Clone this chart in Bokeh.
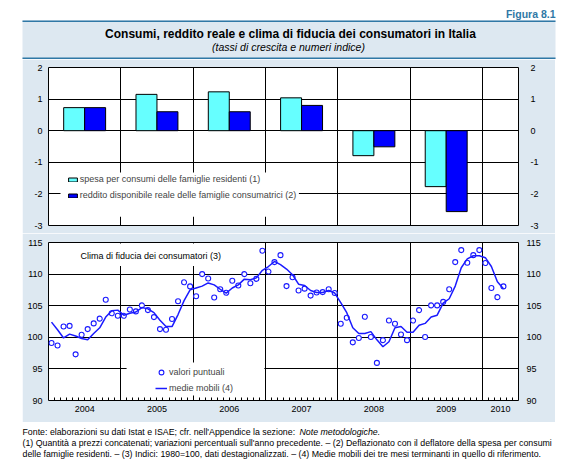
from bokeh.plotting import figure
from bokeh.models import (Range1d, LinearAxis, FixedTicker, Grid, BoxAnnotation, Label,
                          Legend, LegendItem, ColumnDataSource, Spacer)
from bokeh.layouts import column, row
from bokeh.transform import dodge
from bokeh.embed import file_html
from bokeh.resources import INLINE

# ---------------- data ----------------
bar_years = [2004, 2005, 2006, 2007, 2008, 2009]
spesa = [0.73, 1.15, 1.23, 1.04, -0.79, -1.77]
reddito = [0.73, 0.60, 0.60, 0.80, -0.51, -2.56]

# monthly data, Jan 2004 .. Apr 2010
month_index = list(range(76))
fiducia = [
    99.1, 98.7, 101.7, 101.8, 97.3, 100.4, 101.3, 102.2, 102.95, 105.95, 103.8, 103.4,
    103.4, 104.4, 104.1, 105.05, 104.3, 103.2, 101.3, 101.2, 102.9, 105.7, 108.7, 108.05,
    106.5, 110.0, 109.3, 106.3, 107.6, 107.05, 108.95, 108.2, 110.0, 108.55, 109.25, 113.7,
    110.4, 111.9, 113.0, 108.1, 109.5, 107.4, 107.7, 106.6, 107.1, 107.15, 107.6, 107.0,
    102.15, 103.1, 99.2, 99.9, 103.25, 100.05, 95.95, 99.55, 102.65, 102.15, 100.45, 99.55,
    102.65, 104.3, 100.05, 105.05, 105.05, 105.6, 107.6, 111.9, 113.8, 111.8, 113.0, 113.8,
    111.75, 107.8, 106.35, 108.05,
]
media_mobile = [
    102.4, 101.2, 99.9, 100.5, 100.2, 99.8, 99.6, 100.6, 101.5, 103.2, 104.2, 104.3,
    103.5, 103.8, 104.0, 104.7, 104.5, 103.9, 102.7, 101.7, 101.7, 103.6, 105.8, 107.5,
    107.8, 108.1, 108.6, 108.3, 107.6, 107.0, 107.8, 108.3, 109.2, 109.1, 109.4, 110.6,
    111.2, 112.0, 111.5, 110.8, 109.9, 108.4, 108.2, 107.4, 107.1, 107.1, 107.4, 107.0,
    105.5, 103.9, 101.5, 100.6, 100.6, 100.9, 99.6, 98.5, 99.3, 101.5, 101.7, 100.8,
    100.8, 101.9, 102.2, 103.2, 103.5, 105.4, 106.1, 108.1, 111.0, 112.4, 112.9, 112.9,
    112.6, 111.2, 108.8, 107.7,
]
year_labels = ["2004", "2005", "2006", "2007", "2008", "2009", "2010"]
upper_ticks = [-3, -2, -1, 0, 1, 2]
lower_ticks = [90, 95, 100, 105, 110, 115]

title_text = "Consumi, reddito reale e clima di fiducia dei consumatori in Italia"
subtitle_text = "(tassi di crescita e numeri indice)"
figure_tag = "Figura 8.1"
legend_upper = ["spesa per consumi delle famiglie residenti (1)",
                "reddito disponibile reale delle famiglie consumatrici (2)"]
legend_lower = ["valori puntuali", "medie mobili (4)"]
panel_label = "Clima di fiducia dei consumatori (3)"
notes = [
    ("Fonte: elaborazioni su dati Istat e ISAE; cfr. nell'Appendice la sezione: ", "Note metodologiche."),
    ("(1) Quantità a prezzi concatenati; variazioni percentuali sull'anno precedente. – (2) Deflazionato con il deflatore della spesa per consumi", None),
    ("delle famiglie residenti. – (3) Indici: 1980=100, dati destagionalizzati. – (4) Medie mobili dei tre mesi terminanti in quello di riferimento.", None),
]

# ---------------- style ----------------
FONT = "Liberation Sans"
BG = "#dde8f1"
TEAL = "#2f78a6"
CYAN = "#66ffff"
BLUE = "#0000ff"
LINE_BLUE = "#1a1aff"
PAGE_W = 567
PANEL_L, PANEL_R = 22, 555
X0, X1 = 2004, 2010.5


def px_figure(height):
    """Figure whose frame is the whole canvas; data units = pixels from top-left."""
    p = figure(width=PAGE_W, height=height, x_range=Range1d(0, PAGE_W),
               y_range=Range1d(height, 0), x_axis_type=None, y_axis_type=None,
               output_backend="svg", toolbar_location=None, min_border=0,
               outline_line_color=None, background_fill_color="white",
               border_fill_color="white")
    p.grid.visible = False
    return p


def box(p, left, right, top, bottom, color):
    p.add_layout(BoxAnnotation(left=left, right=right, top=top, bottom=bottom,
                               fill_color=color, fill_alpha=1, line_color=None))


def y_axes(p, ticks, right_standoff):
    for side, so in (("left", 6), ("right", right_standoff)):
        ax = LinearAxis(ticker=FixedTicker(ticks=ticks), major_tick_in=0, major_tick_out=0,
                        minor_tick_in=0, minor_tick_out=0, axis_line_color=None,
                        major_label_overrides={t: str(t) for t in ticks},
                        major_label_standoff=so, major_label_text_font=FONT,
                        major_label_text_font_size="9px", major_label_text_color="black")
        p.add_layout(ax, side)


def grids(p, xt, yt):
    p.add_layout(Grid(dimension=0, ticker=FixedTicker(ticks=xt), grid_line_color="black",
                      grid_line_width=1, grid_line_alpha=1))
    p.add_layout(Grid(dimension=1, ticker=FixedTicker(ticks=yt), grid_line_color="black",
                      grid_line_width=1, grid_line_alpha=1))


# ---------------- header ----------------
HH = 59
pH = px_figure(HH)
box(pH, PANEL_L, PANEL_R, 20, HH, BG)
box(pH, PANEL_L, PANEL_R, 20, 21.5, TEAL)
box(pH, PANEL_L, PANEL_R, 57, 58.5, TEAL)
pH.add_layout(Label(x=PANEL_R, y=13, text=figure_tag, text_align="right",
                    text_baseline="middle", text_font=FONT, text_font_size="10.5px",
                    text_font_style="bold", text_color=TEAL))
pH.add_layout(Label(x=290, y=33, text=title_text, text_align="center",
                    text_baseline="middle", text_font=FONT, text_font_size="12px",
                    text_font_style="bold", text_color="black"))
pH.add_layout(Label(x=288, y=46, text=subtitle_text, text_align="center",
                    text_baseline="middle", text_font=FONT, text_font_size="10.5px",
                    text_font_style="italic", text_color="black"))

# ---------------- upper chart ----------------
CW = PANEL_R - PANEL_L
pA = figure(width=CW, height=174, frame_width=470, frame_height=158,
            x_range=Range1d(X0, X1), y_range=Range1d(upper_ticks[0], upper_ticks[-1]),
            x_axis_type=None, y_axis_type=None, output_backend="svg", toolbar_location=None,
            min_border_left=26, min_border_right=37, min_border_top=8, min_border_bottom=8,
            border_fill_color=BG, background_fill_color="white",
            outline_line_color="black", outline_line_width=1, outline_line_alpha=1)
y_axes(pA, upper_ticks, 12)
grids(pA, [y + 1 for y in bar_years], upper_ticks[1:-1])

srcA = ColumnDataSource(dict(x=[y + 0.5 for y in bar_years], spesa=spesa, reddito=reddito))
r1 = pA.vbar(x=dodge("x", -0.145, range=pA.x_range), top="spesa", bottom=0, width=0.29,
             source=srcA, fill_color=CYAN, line_color="black", line_width=1)
r2 = pA.vbar(x=dodge("x", 0.145, range=pA.x_range), top="reddito", bottom=0, width=0.29,
             source=srcA, fill_color=BLUE, line_color="black", line_width=1)

box(pA, 2004.166, 2007.463, -1.32, -2.72, "white")
legA = Legend(items=[LegendItem(label=legend_upper[0], renderers=[r1]),
                     LegendItem(label=legend_upper[1], renderers=[r2])],
              location=(18.7, 24), orientation="vertical", background_fill_alpha=0,
              border_line_alpha=0, padding=0, margin=0, spacing=4, glyph_width=11,
              glyph_height=5, label_height=12, label_standoff=2, label_text_font=FONT,
              label_text_font_size="9px")
pA.add_layout(legA)

# ---------------- lower chart ----------------
pB = figure(width=CW, height=189, frame_width=470, frame_height=158,
            x_range=Range1d(X0, X1), y_range=Range1d(lower_ticks[0], lower_ticks[-1]),
            x_axis_type=None, y_axis_type=None, output_backend="svg", toolbar_location=None,
            min_border_left=26, min_border_right=37, min_border_top=9, min_border_bottom=22,
            border_fill_color=BG, background_fill_color="white",
            outline_line_color="black", outline_line_width=1, outline_line_alpha=1)
y_axes(pB, lower_ticks, 8)
grids(pB, [y + 1 for y in bar_years], lower_ticks[1:-1])

label_pos = [int(y) + 0.5 for y in year_labels[:-1]] + [int(year_labels[-1]) + 0.25]
xb = LinearAxis(ticker=FixedTicker(ticks=label_pos,
                                   minor_ticks=[X0 + k / 12 for k in range(1, 78)]),
                major_label_overrides={pos: lab for pos, lab in zip(label_pos, year_labels)},
                major_tick_in=0, major_tick_out=0, minor_tick_in=3, minor_tick_out=0,
                minor_tick_line_color="black", axis_line_color=None, major_label_standoff=5,
                major_label_text_font=FONT, major_label_text_font_size="9px",
                major_label_text_color="black")
pB.add_layout(xb, "below")

srcB = ColumnDataSource(dict(x=[X0 + (i + 0.5) / 12 for i in month_index],
                             fid=fiducia, mm=media_mobile))
pts = pB.scatter("x", "fid", source=srcB, marker="circle", size=5, fill_color="white",
                 line_color=LINE_BLUE, line_width=1.1)
ln = pB.line("x", "mm", source=srcB, line_color=LINE_BLUE, line_width=1.5)

box(pB, 2004.17, 2006.9, 114.85, 111.3, "white")
pB.add_layout(Label(x=2004.443, y=112.9, text=panel_label, text_baseline="middle",
                    text_font=FONT, text_font_size="9px", text_color="black"))
box(pB, 2005.08, 2006.985, 96.0, 90.8, "white")
legB = Legend(items=[LegendItem(label=legend_lower[0], renderers=[pts]),
                     LegendItem(label=legend_lower[1], renderers=[ln])],
              location=(107, 6.3), orientation="vertical", background_fill_alpha=0,
              border_line_alpha=0, padding=0, margin=0, spacing=4, glyph_width=12,
              glyph_height=12, label_height=12, label_standoff=2, label_text_font=FONT,
              label_text_font_size="9px")
pB.add_layout(legB)

# ---------------- footer ----------------
FH = 51
pF = px_figure(FH)
note_y = [9, 20, 31]
for (txt, ital), yy in zip(notes, note_y):
    pF.add_layout(Label(x=PANEL_L, y=yy, text=txt, text_baseline="middle", text_font=FONT,
                        text_font_size="8.8px", text_color="black"))
    if ital:
        pF.add_layout(Label(x=299, y=yy, text=ital, text_baseline="middle", text_font=FONT,
                            text_font_size="8.8px", text_font_style="italic",
                            text_color="black"))

middle = row(Spacer(width=PANEL_L, height=174 + 189), column(pA, pB, spacing=0),
             Spacer(width=PAGE_W - PANEL_R, height=174 + 189), spacing=0)
layout = column(pH, middle, pF, spacing=0)
open("out.html", "w").write(file_html(layout, INLINE))
